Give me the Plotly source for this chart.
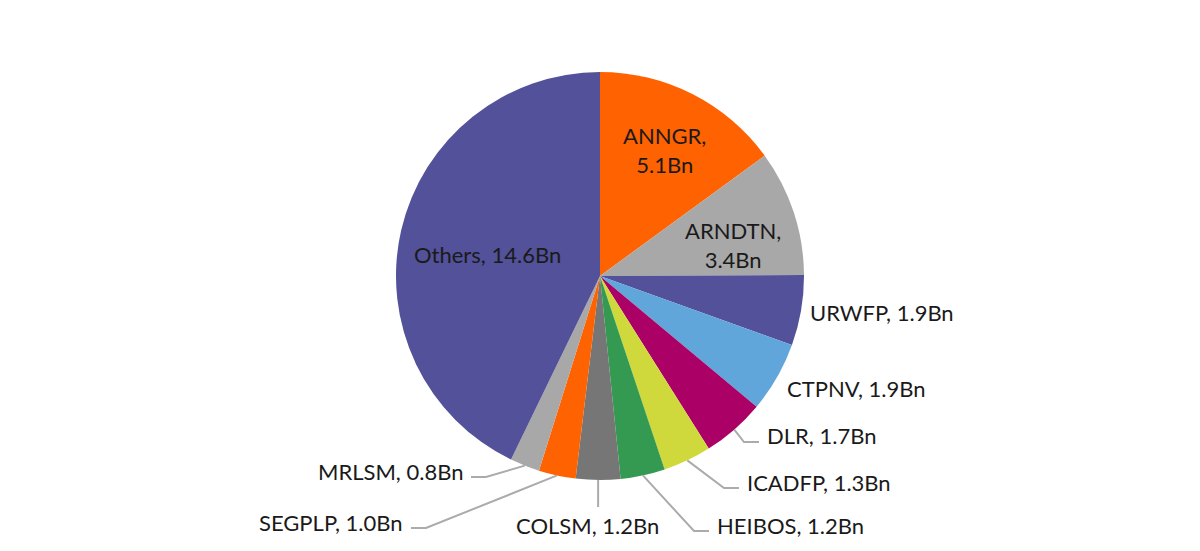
import numpy as np
import plotly.graph_objects as go

names = ["ANNGR", "ARNDTN", "URWFP", "CTPNV", "DLR", "ICADFP",
         "HEIBOS", "COLSM", "SEGPLP", "MRLSM", "Others"]
values_bn = [5.1, 3.4, 1.9, 1.9, 1.7, 1.3, 1.2, 1.2, 1.0, 0.8, 14.6]
colors = ["#FF6200", "#A8A8A8", "#525199", "#60A6DA", "#AB0066", "#D0D93C",
          "#349A52", "#767676", "#FF6200", "#A8A8A8", "#525199"]

W, H = 1200, 551
OFF = 8  # page body margin
CX, CY, R = 600, 276, 204

# label placement in pixels: text x, text y, anchor, leader kind
label_place = {
    "ANNGR": (664, 150, "center", None),
    "ARNDTN": (733, 245, "center", None),
    "URWFP": (808, 312, "left", None),
    "CTPNV": (785, 388, "left", None),
    "DLR": (765, 436, "left", "elbow"),
    "ICADFP": (745, 482, "left", "elbow"),
    "HEIBOS": (715, 525, "left", "elbow"),
    "COLSM": (587, 525, "center", "vertical"),
    "SEGPLP": (405, 522, "right", "elbow"),
    "MRLSM": (465, 471, "right", "elbow"),
    "Others": (487, 254, "center", None),
}
two_line = {"ANNGR", "ARNDTN"}


def px(x):
    return (x - OFF) / W


def py(y):
    return 1 - (y - OFF) / H


fig = go.Figure(go.Pie(
    labels=names, values=values_bn, sort=False, direction="clockwise", rotation=0,
    marker=dict(colors=colors, line=dict(width=0)),
    textinfo="none", showlegend=False,
    domain=dict(x=[px(CX - R), px(CX + R)], y=[py(CY + R), py(CY - R)]),
))

total = sum(values_bn)
cum = np.cumsum(values_bn)
annotations = []
shapes = []
line_col = "#ABABAB"
for name, v, c in zip(names, values_bn, cum):
    tx, ty, anchor, leader = label_place[name]
    sep = ",<br>" if name in two_line else ", "
    annotations.append(dict(
        x=px(tx), y=py(ty), xref="paper", yref="paper", xanchor=anchor, yanchor="middle",
        text=f"{name}{sep}{v:.1f}Bn", showarrow=False, align="center",
        font=dict(family="Lato", size=22, color="#1a1a1a"),
    ))
    if leader is None:
        continue
    th = 2 * np.pi * (c - v / 2) / total
    sx, sy = CX + R * np.sin(th), CY - R * np.cos(th)
    if leader == "vertical":
        pts = [(sx, sy), (sx, ty - 18)]
    else:
        side = 1 if anchor == "left" else -1
        ex = tx - side * 6
        ey = ty + 6
        pts = [(sx, sy), (ex - side * 15, ey), (ex, ey)]
    path = "M " + " L ".join(f"{px(a):.5f},{py(b):.5f}" for a, b in pts)
    shapes.append(dict(type="path", path=path, xref="paper", yref="paper",
                       line=dict(color=line_col, width=2)))

fig.update_layout(
    width=W, height=H, margin=dict(l=0, r=0, t=0, b=0),
    paper_bgcolor="white", plot_bgcolor="white",
    annotations=annotations, shapes=shapes,
)

fig.write_html("out.html")
